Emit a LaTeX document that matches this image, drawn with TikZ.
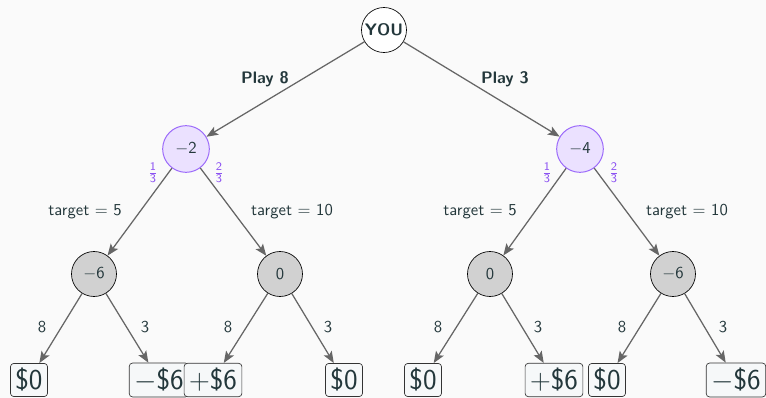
\documentclass[tikz,border=0pt]{standalone}
\usepackage{tikz}
\usetikzlibrary{arrows,arrows.meta,backgrounds,calc}
\usepackage{amssymb}
\usepackage{amsmath}

\definecolor{mDarkTeal}{HTML}{23373B}
\definecolor{mBackground}{HTML}{FAFAFA}
\definecolor{chanceFill}{HTML}{EBE1FF}
\definecolor{chanceDraw}{HTML}{9C6BFA}
\definecolor{probText}{HTML}{8C52F2}
\definecolor{edgeGray}{HTML}{666666}
\definecolor{leafFill}{HTML}{F6F8F9}

\begin{document}
\begin{tikzpicture}[x=0.6pt,y=-0.6pt,
  every node/.style={text=mDarkTeal,font=\sffamily},
  player/.style={circle,draw=black,fill=white,minimum size=27pt,inner sep=0pt,font=\sffamily\bfseries},
  chance/.style={circle,draw=chanceDraw,fill=chanceFill,line width=0.6pt,minimum size=28pt,inner sep=0pt},
  opponent/.style={circle,draw=black,fill=black!18,minimum size=27pt,inner sep=0pt},
  payoff/.style={draw=black!80,fill=leafFill,rounded corners=2pt,inner sep=3pt,font=\sffamily\LARGE},
  move/.style={-{Stealth[length=7pt,width=5.5pt,inset=1.5pt]},draw=edgeGray,line width=0.75pt},
  prob/.style={text=probText}]
\fill[mBackground] (0,0) rectangle (766,398);
\useasboundingbox (0,0) rectangle (766,398);

% decision and chance nodes
\node[player] (you) at (384,30) {YOU};
\node[chance] (play8) at (186,149) {$-$2};
\node[chance] (play3) at (580,149) {$-$4};
\node[opponent] (p8t5) at (94,274) {$-$6};
\node[opponent] (p8t10) at (280,274) {0};
\node[opponent] (p3t5) at (490,274) {0};
\node[opponent] (p3t10) at (673,274) {$-$6};

% payoffs
\node[payoff] (p8t5a) at (29,380) {\$0};
\node[payoff] (p8t5b) at (159,380) {$-$\$6};
\node[payoff] (p8t10a) at (213,380) {$+$\$6};
\node[payoff] (p8t10b) at (344,380) {\$0};
\node[payoff] (p3t5a) at (423,380) {\$0};
\node[payoff] (p3t5b) at (554,380) {$+$\$6};
\node[payoff] (p3t10a) at (607,380) {\$0};
\node[payoff] (p3t10b) at (736,380) {$-$\$6};

% moves
\draw[move] (you) -- (play8);
\draw[move] (you) -- (play3);
\draw[move] (play8) -- (p8t5);
\draw[move] (play8) -- (p8t10);
\draw[move] (play3) -- (p3t5);
\draw[move] (play3) -- (p3t10);
\draw[move] (p8t5) -- (p8t5a);
\draw[move] (p8t5) -- (p8t5b);
\draw[move] (p8t10) -- (p8t10a);
\draw[move] (p8t10) -- (p8t10b);
\draw[move] (p3t5) -- (p3t5a);
\draw[move] (p3t5) -- (p3t5b);
\draw[move] (p3t10) -- (p3t10a);
\draw[move] (p3t10) -- (p3t10b);

% labels
\node[font=\sffamily\bfseries] (lplay8) at (265,79) {Play 8};
\node[font=\sffamily\bfseries] (lplay3) at (505,79) {Play 3};
\node[prob] (q8a) at (153,173) {$\frac{\mathsf{1}}{\mathsf{3}}$};
\node[prob] (q8b) at (219,173) {$\frac{\mathsf{2}}{\mathsf{3}}$};
\node[prob] (q3a) at (547,173) {$\frac{\mathsf{1}}{\mathsf{3}}$};
\node[prob] (q3b) at (614,173) {$\frac{\mathsf{2}}{\mathsf{3}}$};
\node (t8a) at (85,212) {target $=$ 5};
\node (t8b) at (292,212) {target $=$ 10};
\node (t3a) at (480,212) {target $=$ 5};
\node (t3b) at (687,212) {target $=$ 10};
\node (n1) at (42,327) {8};
\node (n2) at (145,327) {3};
\node (n3) at (228,327) {8};
\node (n4) at (328,327) {3};
\node (n5) at (438,327) {8};
\node (n6) at (538,327) {3};
\node (n7) at (622,327) {8};
\node (n8) at (723,327) {3};
\end{tikzpicture}
\end{document}
